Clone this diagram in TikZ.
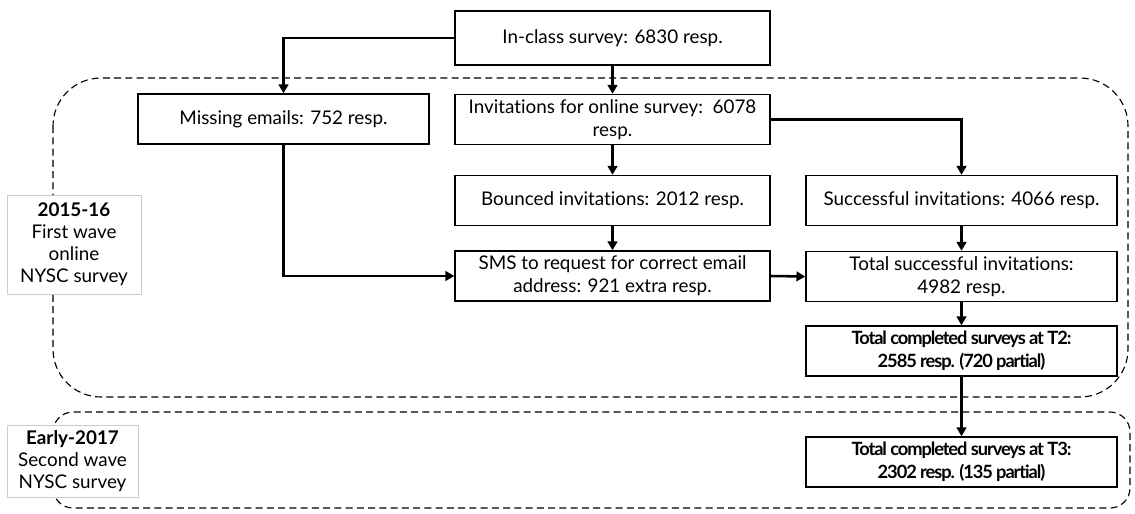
\documentclass[tikz,border=0pt]{standalone}
\usepackage{fontspec}
\setmainfont{Lato}[Ligatures=NoCommon]
\newfontfamily\tightlato{Lato}[Ligatures=NoCommon,LetterSpace=-6]
\usetikzlibrary{positioning,arrows.meta}

\begin{document}
\begin{tikzpicture}[x=0.025cm,y=-0.025cm,
		box/.style={minimum height=1.25cm,draw=black,line width=1pt,fill=white,inner sep=2pt,align=center,font=\fontsize{13.4}{16.4}\selectfont},
		boldbox/.style={box,font=\tightlato\fontsize{13}{16.4}\selectfont\bfseries},
		wave/.style={draw=black!20,line width=0.6pt,fill=white,inner sep=1pt,align=center,font=\fontsize{13.4}{15.6}\selectfont},
		flow/.style={-{Triangle[length=2.2mm,width=2.4mm]},line width=1.8pt},
		region/.style={dash pattern=on 5pt off 3pt,line width=0.8pt}]
		\useasboundingbox (0,0) rectangle (1135,513);
		
		% the two survey waves
		\draw[region,rounded corners=1.2cm] (53,78) rectangle (1128,397);
		\draw[region,rounded corners=0.5cm] (53,412) rectangle (1130,508);
		
		\node[box,minimum width=7.875cm,minimum height=1.35cm] (ic) at (612.5,38) {In-class survey: 6830 resp.};
		\node[box,minimum width=7.275cm] (me) at (283.5,119) {Missing emails: 752 resp.};
		\node[box,minimum width=7.875cm] (inv) at (612.5,119.5) {Invitations for online survey:\ \ 6078\\resp.};
		\node[box,minimum width=7.875cm] (bi) at (612.5,200.5) {Bounced invitations: 2012 resp.};
		\node[box,minimum width=7.775cm] (si) at (961.5,200.5) {Successful invitations: 4066 resp.};
		\node[box,minimum width=7.875cm] (sms) at (612.5,276) {SMS to request for correct email\\address: 921 extra resp.};
		\node[box,minimum width=7.775cm] (ts) at (961.5,276.5) {Total successful invitations:\\4982 resp.};
		\node[boldbox,minimum width=7.775cm] (t2) at (961.5,351) {Total completed surveys at T2:\\2585 resp. (720 partial)};
		\node[boldbox,minimum width=7.775cm] (t3) at (961.5,462) {Total completed surveys at T3:\\2302 resp. (135 partial)};
		
		\node[wave,minimum width=3.35cm,minimum height=2.475cm] (w1) at (74,244.5) {\textbf{2015-16}\\First wave\\online\\NYSC survey};
		\node[wave,minimum width=3.275cm,minimum height=1.8cm] (w2) at (72.5,461) {\textbf{Early-2017}\\Second wave\\NYSC survey};
		
		\draw[flow] (ic.west) -| (me.north);
		\draw[flow] (ic.south) -- (inv.north);
		\draw[flow] (inv.east) -| (si.north);
		\draw[flow] (inv.south) -- (bi.north);
		\draw[flow] (bi.south) -- (sms.north);
		\draw[flow] (me.south) |- (sms.west);
		\draw[flow] (sms.east) -- (ts.west);
		\draw[flow] (si.south) -- (ts.north);
		\draw[flow] (ts.south) -- (t2.north);
		\draw[flow] (t2.south) -- (t3.north);
	\end{tikzpicture}
\end{document}
